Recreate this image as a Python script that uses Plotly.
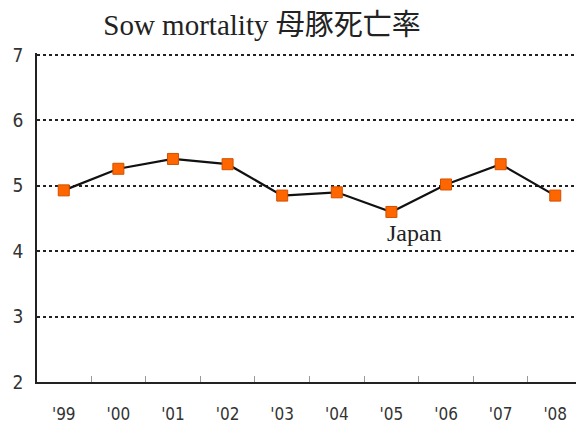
import plotly.graph_objects as go

years = ["'99", "'00", "'01", "'02", "'03", "'04", "'05", "'06", "'07", "'08"]
mortality = [4.93, 5.26, 5.41, 5.33, 4.85, 4.90, 4.60, 5.02, 5.33, 4.85]
series_name = "Japan"
title_text = "Sow mortality 母豚死亡率"

x_idx = list(range(len(years)))
narrow = "DejaVu Sans Condensed, Liberation Sans Narrow, Roboto Condensed, Arial Narrow, sans-serif"

fig = go.Figure()
fig.add_trace(go.Scatter(
    x=x_idx, y=mortality, mode="lines+markers", name=series_name,
    line=dict(color="#111111", width=2.2),
    marker=dict(symbol="square", size=11, color="#FF6600",
                line=dict(color="#D05000", width=1)),
    showlegend=False,
))

fig.add_annotation(x=6.42, y=4.28, text=series_name, showarrow=False,
                   font=dict(family="Liberation Serif, Times New Roman, serif", size=24, color="#222222"))

fig.update_layout(
    width=576, height=424,
    margin=dict(l=37, r=0, t=53, b=42),
    paper_bgcolor="white", plot_bgcolor="white",
    title=dict(text=title_text, x=262 / 576, xanchor="center", y=1 - 25 / 424, yanchor="middle",
               font=dict(family="Liberation Serif, Noto Sans CJK JP, serif", size=29, color="#222222")),
    xaxis=dict(
        range=[-0.49, 9.38], automargin=False,
        tickmode="array", tickvals=x_idx, ticktext=years,
        showgrid=False, zeroline=False,
        showline=True, linecolor="#222222", linewidth=1.5,
        ticks="",
        tickfont=dict(family=narrow, size=17, color="#333333"),
        ticklabelstandoff=16,
    ),
    yaxis=dict(
        range=[2, 7.03], dtick=1, tick0=2, automargin=False,
        showgrid=True, gridcolor="#222222", griddash="dot", gridwidth=1.5,
        zeroline=False,
        showline=True, linecolor="#222222", linewidth=1.5,
        ticks="",
        tickfont=dict(family=narrow, size=19, color="#333333"),
        ticklabelstandoff=8,
    ),
)

fig.update_xaxes(minor=dict(tickmode="array", tickvals=[i + 0.5 for i in x_idx[:-1]],
                            ticks="inside", ticklen=6, tickcolor="#999999", tickwidth=1, showgrid=False))

fig.write_html("out.html", config={"displayModeBar": False},
               post_script="document.body.style.margin='0px';")
